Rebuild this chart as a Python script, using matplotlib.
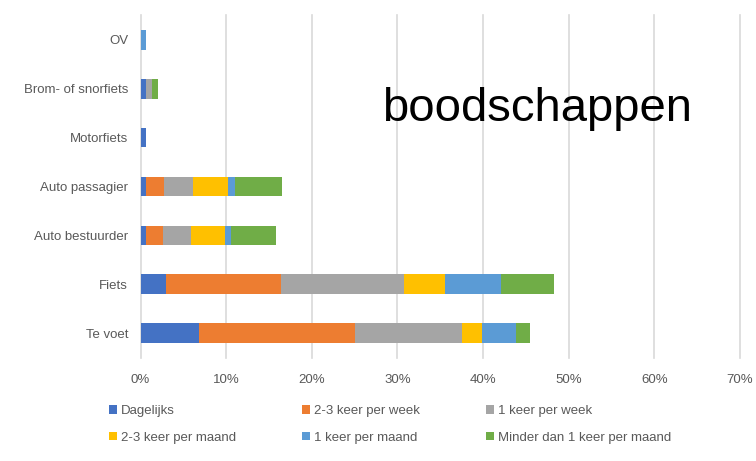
import matplotlib
matplotlib.use("Agg")
import matplotlib.pyplot as plt
import numpy as np

plt.rcParams['font.family'] = ['Liberation Sans', 'DejaVu Sans']

categories = ["OV", "Brom- of snorfiets", "Motorfiets", "Auto passagier",
              "Auto bestuurder", "Fiets", "Te voet"]
series_names = ["Dagelijks", "2-3 keer per week", "1 keer per week",
                "2-3 keer per maand", "1 keer per maand", "Minder dan 1 keer per maand"]
# values in percent, per series, in category order
dagelijks      = [0.0, 0.6, 0.7, 0.6, 0.6, 3.0, 6.8]
keer23_week    = [0.0, 0.0, 0.0, 2.1, 2.0, 13.4, 18.3]
keer1_week     = [0.0, 0.7, 0.0, 3.4, 3.3, 14.4, 12.4]
keer23_maand   = [0.0, 0.0, 0.0, 4.1, 4.0, 4.7, 2.4]
keer1_maand    = [0.6, 0.0, 0.0, 0.8, 0.7, 6.6, 3.9]
minder         = [0.0, 0.75, 0.0, 5.5, 5.2, 6.2, 1.7]
xticks = [0, 10, 20, 30, 40, 50, 60, 70]
xtick_labels = ["0%", "10%", "20%", "30%", "40%", "50%", "60%", "70%"]
title = "boodschappen"

series = [dagelijks, keer23_week, keer1_week, keer23_maand, keer1_maand, minder]
colors = ["#4472C4", "#ED7D31", "#A5A5A5", "#FFC000", "#5B9BD5", "#70AD47"]

fig = plt.figure(figsize=(7.56, 4.61), dpi=100)
ax = fig.add_axes([140.5/756, 1-357.5/461, (740-140.5)/756, (357.5-15.5)/461])

y = np.arange(len(categories))[::-1]
left = np.zeros(len(categories))
handles = []
for vals, c, name in zip(series, colors, series_names):
    v = np.array(vals)
    h = ax.barh(y, v, left=left, height=0.4, color=c, label=name, zorder=3)
    handles.append(h)
    left += v

ax.set_xlim(0, 70)
ax.set_ylim(-0.5, len(categories) - 0.5)
ax.set_yticks(y)
ax.set_yticklabels(categories)
ax.set_xticks(xticks)
ax.set_xticklabels(xtick_labels)
ax.tick_params(axis='both', length=0, labelsize=9.5, colors="#595959")
ax.tick_params(axis='y', pad=9)
ax.tick_params(axis='x', pad=12)
for s in ax.spines.values():
    s.set_visible(False)
ax.grid(axis='x', color="#D9D9D9", linewidth=1.2, zorder=0)
for gl in ax.get_xgridlines():
    gl.set_clip_on(False)

order = [0, 3, 1, 4, 2, 5]
leg = fig.legend([handles[i] for i in order], [series_names[i] for i in order],
                 ncol=3, loc='upper left', bbox_to_anchor=(109/756, 1-405/461),
                 frameon=False, fontsize=9.5, handlelength=0.6, handleheight=0.6,
                 handletextpad=0.3, columnspacing=5.0, labelspacing=1.13,
                 borderaxespad=0, borderpad=0)
for t in leg.get_texts():
    t.set_color("#595959")

fig.text(382/756, 1-121/461, title, fontsize=34, color="black",
         va='baseline', ha='left')

fig.savefig("out.png", dpi=100)
